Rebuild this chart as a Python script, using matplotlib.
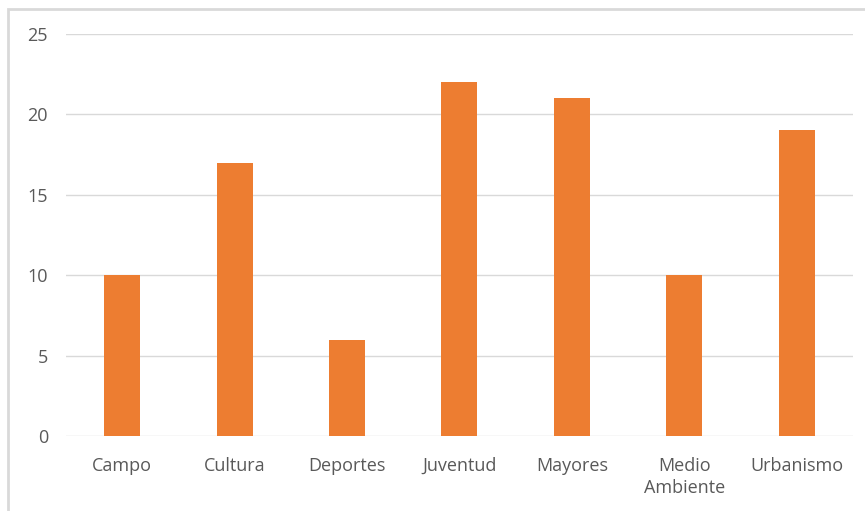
import matplotlib.pyplot as plt
from matplotlib.patches import Rectangle

categorias = ["Campo", "Cultura", "Deportes", "Juventud", "Mayores", "Medio\nAmbiente", "Urbanismo"]
valores = [10, 17, 6, 22, 21, 10, 19]
ticks_y = [0, 5, 10, 15, 20, 25]

plt.rcParams["font.family"] = ["Open Sans", "DejaVu Sans"]

fig = plt.figure(figsize=(8.65, 5.11), dpi=100)
ax = fig.add_axes([0.0763, 0.1468, 0.986 - 0.0763, 0.9335 - 0.1468])

x = range(len(categorias))
ax.bar(x, valores, width=0.32, color="#ED7D31", zorder=3)

ax.set_xlim(-0.5, len(categorias) - 0.5)
ax.set_ylim(0, 25)
ax.set_yticks(ticks_y)
ax.set_xticks(list(x))
ax.set_xticklabels(categorias, linespacing=1.3)

ax.grid(axis="y", color="#d9d9d9", linewidth=1, zorder=0)
for s in ax.spines.values():
    s.set_visible(False)
ax.tick_params(axis="both", length=0, labelsize=13, labelcolor="#595959")
ax.tick_params(axis="y", pad=13)
ax.tick_params(axis="x", pad=15)
for lbl in ax.get_xticklabels():
    lbl.set_verticalalignment("top")

# marco gris del área del gráfico
fig.patches.append(Rectangle((8 / 865, -0.1), 1.2, 1 - 9 / 511 + 0.1,
                             transform=fig.transFigure, fill=False,
                             edgecolor="#d9d9d9", linewidth=2))

fig.savefig("out.png", dpi=100)
